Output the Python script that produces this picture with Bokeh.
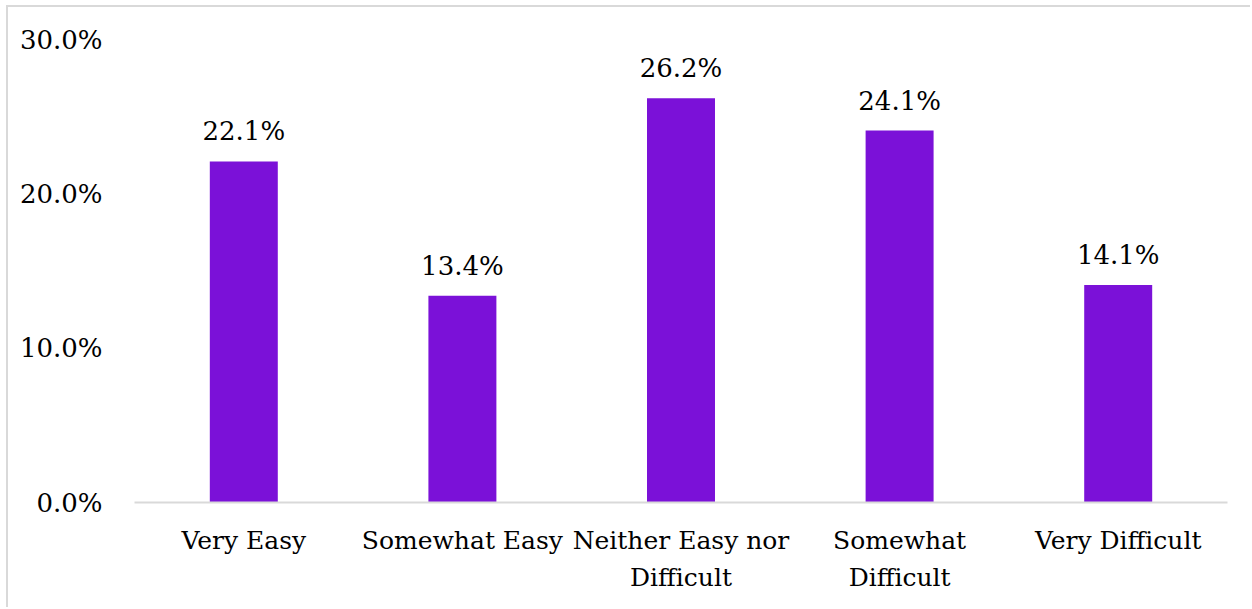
from bokeh.plotting import figure
from bokeh.models import ColumnDataSource, Range1d, FixedTicker, NumeralTickFormatter
from bokeh.embed import file_html
from bokeh.resources import INLINE
from bokeh.core.properties import value

categories = ["Very Easy", "Somewhat Easy", "Neither Easy nor\nDifficult", "Somewhat\nDifficult", "Very Difficult"]
values = [0.221, 0.134, 0.262, 0.241, 0.141]
labels = ["22.1%", "13.4%", "26.2%", "24.1%", "14.1%"]
y_ticks = [0.0, 0.1, 0.2, 0.3]

FONT = "DejaVu Serif"
FS = "26px"
BAR = "#7B11D8"

src = ColumnDataSource(dict(cat=categories, val=values, lab=labels))

p = figure(x_range=categories, y_range=Range1d(0, 0.30),
           width=1244, height=602, output_backend="svg", toolbar_location=None,
           min_border_left=126, min_border_right=25, min_border_top=32, min_border_bottom=107)
p.styles = {"margin-left": "6px", "margin-top": "5px",
            "border-left": "2px solid #d9d9d9", "border-top": "2px solid #d9d9d9"}

p.vbar(x="cat", top="val", width=0.311, source=src, fill_color=BAR, line_color=None)
p.text(x="cat", y="val", text="lab", source=src, text_align="center", text_baseline="alphabetic",
       y_offset=-30, text_font=value(FONT), text_font_size=FS, text_color="#000000")

p.xgrid.grid_line_color = None
p.ygrid.grid_line_color = None
p.outline_line_color = None

p.yaxis.ticker = FixedTicker(ticks=y_ticks)
p.yaxis.formatter = NumeralTickFormatter(format="0.0%")
p.yaxis.axis_line_color = None
p.yaxis.major_tick_line_color = None
p.yaxis.minor_tick_line_color = None
p.yaxis.major_label_standoff = 26
p.yaxis.major_label_text_font = FONT
p.yaxis.major_label_text_font_size = FS
p.yaxis.major_label_text_color = "#000000"

p.xaxis.axis_line_color = "#d9d9d9"
p.xaxis.axis_line_width = 2
p.xaxis.major_tick_line_color = None
p.xaxis.minor_tick_line_color = None
p.xaxis.major_label_standoff = 17
p.xaxis.major_label_text_font = FONT
p.xaxis.major_label_text_font_size = "25px"
p.xaxis.major_label_text_color = "#000000"
p.xaxis.major_label_text_line_height = 1.3

open("out.html", "w").write(file_html(p, INLINE))
